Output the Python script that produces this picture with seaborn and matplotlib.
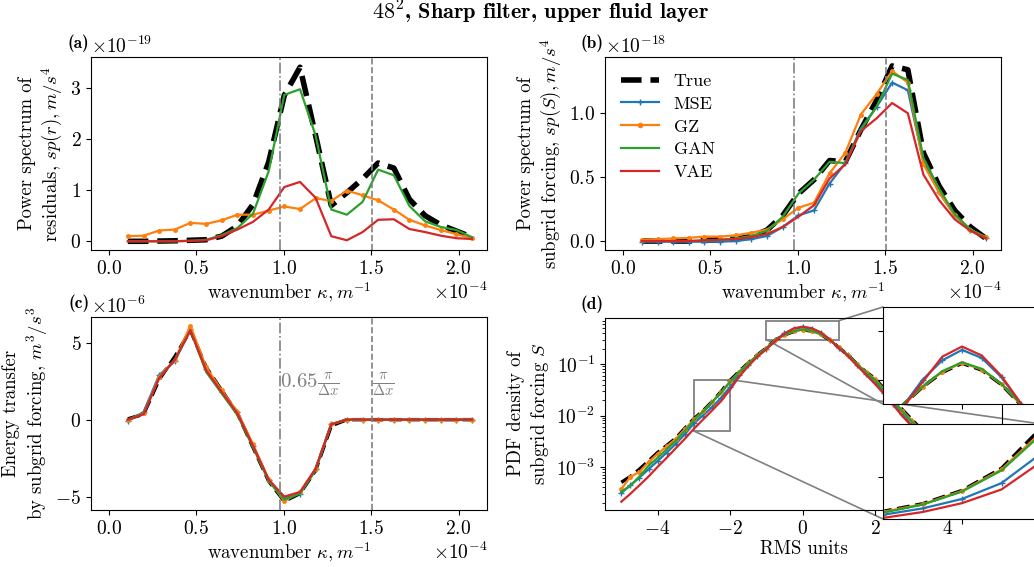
import matplotlib
matplotlib.use("Agg")
import matplotlib.pyplot as plt
import seaborn as sns
import numpy as np
from matplotlib.patches import Rectangle, ConnectionPatch
from matplotlib.lines import Line2D

plt.rcParams['font.family'] = ['cmr10']
plt.rcParams['mathtext.fontset'] = 'cm'
plt.rcParams['axes.formatter.use_mathtext'] = True
plt.rcParams['font.size'] = 13.5
plt.rcParams['xtick.labelsize'] = 14
plt.rcParams['ytick.labelsize'] = 14
plt.rcParams['axes.labelsize'] = 13.5
plt.rcParams['axes.unicode_minus'] = True

# ---------------- data ----------------
# wavenumber (units 1e-4 1/m)
kappa = [0.108, 0.198, 0.287, 0.377, 0.466, 0.556, 0.645, 0.735, 0.824, 0.914, 1.003, 1.093,
         1.182, 1.272, 1.361, 1.451, 1.540, 1.630, 1.719, 1.809, 1.898, 1.988, 2.077]
k_065 = 0.979   # 0.65 pi/dx
k_pi = 1.506    # pi/dx

# (a) power spectrum of residuals (units 1e-19)
a_true = [0.0, 0.0, 0.005, 0.01, 0.02, 0.03, 0.1, 0.3, 0.72, 1.55, 2.85, 3.4, 2.07, 0.7, 0.95, 1.22,
          1.53, 1.43, 0.82, 0.5, 0.32, 0.2, 0.08]
a_gz = [0.1, 0.11, 0.21, 0.23, 0.36, 0.34, 0.41, 0.52, 0.52, 0.6, 0.68, 0.63, 0.84, 0.79, 0.99, 0.9,
        0.8, 0.62, 0.42, 0.31, 0.22, 0.14, 0.06]
a_gan = [0.0, 0.0, 0.0, 0.0, 0.01, 0.03, 0.12, 0.26, 0.54, 1.37, 2.86, 2.97, 2.07, 0.62, 0.52, 0.77,
         1.40, 1.29, 0.69, 0.39, 0.28, 0.22, 0.08]
a_vae = [0.0, 0.0, 0.0, 0.0, 0.01, 0.02, 0.1, 0.23, 0.38, 0.62, 1.06, 1.16, 0.85, 0.1, 0.02, 0.18,
         0.42, 0.43, 0.24, 0.18, 0.11, 0.06, 0.045]

# (b) power spectrum of subgrid forcing (units 1e-18)
b_true = [0.0, 0.0, 0.0, 0.0, 0.005, 0.01, 0.015, 0.035, 0.086, 0.2, 0.37, 0.48, 0.63, 0.62, 0.87,
          1.10, 1.37, 1.34, 0.69, 0.43, 0.24, 0.11, 0.02]
b_mse = [-0.005, -0.005, -0.005, -0.005, -0.005, -0.005, 0.0, 0.015, 0.04, 0.11, 0.2, 0.24, 0.45,
         0.61, 0.88, 1.05, 1.24, 1.18, 0.62, 0.38, 0.2, 0.09, 0.02]
b_gz = [0.01, 0.015, 0.02, 0.025, 0.035, 0.035, 0.045, 0.065, 0.09, 0.17, 0.26, 0.30, 0.53, 0.69,
        0.99, 1.15, 1.33, 1.24, 0.6, 0.38, 0.2, 0.09, 0.03]
b_gan = [0.0, 0.0, 0.0, 0.0, 0.005, 0.01, 0.02, 0.04, 0.08, 0.19, 0.37, 0.48, 0.62, 0.61, 0.87,
         1.05, 1.31, 1.26, 0.65, 0.41, 0.21, 0.09, 0.025]
b_vae = [0.0, 0.0, 0.0, 0.0, 0.005, 0.01, 0.015, 0.03, 0.055, 0.11, 0.19, 0.28, 0.49, 0.60, 0.86,
         0.96, 1.08, 1.0, 0.52, 0.32, 0.17, 0.08, 0.02]

# (c) energy transfer (units 1e-6)
c_true = [0.05, 0.35, 2.6, 4.1, 5.8, 3.4, 1.9, 0.4, -1.8, -4.0, -5.3, -4.8, -3.3, -0.4, 0.0,
          0.0, 0.0, 0.0, 0.0, 0.0, 0.0, 0.0, 0.0]
c_mse = [-0.1, 0.5, 2.9, 3.8, 5.9, 3.3, 1.8, 0.5, -1.7, -3.9, -5.1, -4.8, -3.2, -0.3, 0.0,
         0.0, 0.0, 0.0, 0.0, 0.0, 0.0, 0.0, 0.0]
c_gz = [0.0, 0.4, 2.8, 3.9, 6.1, 3.4, 1.9, 0.5, -1.6, -3.9, -5.3, -4.7, -3.2, -0.3, 0.0,
        0.0, 0.0, 0.0, 0.0, 0.0, 0.0, 0.0, 0.0]
c_gan = [0.0, 0.4, 2.7, 3.9, 5.8, 3.1, 1.7, 0.3, -1.8, -4.0, -5.2, -4.8, -3.3, -0.3, 0.0,
         0.0, 0.0, 0.0, 0.0, 0.0, 0.0, 0.0, 0.0]
c_vae = [0.0, 0.35, 2.7, 3.9, 5.8, 3.2, 1.8, 0.4, -1.7, -3.9, -5.0, -4.7, -3.2, -0.3, 0.0,
         0.0, 0.0, 0.0, 0.0, 0.0, 0.0, 0.0, 0.0]

# (d) PDF of subgrid forcing, RMS units
rms = [-5.0, -4.75, -4.5, -4.25, -4.0, -3.75, -3.5, -3.25, -3.0, -2.75, -2.5, -2.25, -2.0, -1.75,
       -1.5, -1.25, -1.0, -0.75, -0.5, -0.25, 0.0, 0.25, 0.5, 0.75, 1.0, 1.25, 1.5, 1.75, 2.0,
       2.25, 2.5, 2.75, 3.0, 3.25, 3.5, 3.75, 4.0, 4.25, 4.5, 4.75, 5.0]
d_true = [5.0e-4, 6.5e-4, 9.0e-4, 1.3e-3, 1.9e-3, 2.6e-3, 3.6e-3, 5.6e-3, 8.6e-3, 1.22e-2, 1.85e-2,
          2.9e-2, 4.8e-2, 7.2e-2, 0.105, 0.15, 0.205, 0.295, 0.37, 0.43, 0.468, 0.44, 0.38, 0.295,
          0.21, 0.15, 0.10, 0.07, 0.052, 0.033, 0.021, 0.013, 8.5e-3, 5.6e-3, 3.7e-3, 2.5e-3,
          1.7e-3, 1.2e-3, 8.5e-4, 6.0e-4, 4.2e-4]
d_mse = [3.1e-4, 4.4e-4, 6.2e-4, 9.0e-4, 1.3e-3, 1.9e-3, 2.8e-3, 4.3e-3, 7.0e-3, 1.0e-2, 1.45e-2,
         2.2e-2, 3.6e-2, 6.2e-2, 0.096, 0.144, 0.198, 0.29, 0.40, 0.48, 0.523, 0.49, 0.41, 0.30,
         0.205, 0.148, 0.097, 0.065, 0.045, 0.028, 0.017, 0.0105, 6.8e-3, 4.5e-3, 3.0e-3,
         2.0e-3, 1.4e-3, 9.5e-4, 6.6e-4, 4.6e-4, 3.2e-4]
d_gz = [3.7e-4, 6.4e-4, 8.0e-4, 1.25e-3, 1.8e-3, 2.5e-3, 3.5e-3, 5.4e-3, 8.4e-3, 1.2e-2, 1.83e-2,
        2.85e-2, 4.6e-2, 7.1e-2, 0.104, 0.149, 0.205, 0.296, 0.37, 0.432, 0.470, 0.442, 0.381,
        0.296, 0.211, 0.15, 0.10, 0.07, 0.051, 0.032, 0.020, 0.0125, 8.2e-3, 5.4e-3, 3.6e-3,
        2.4e-3, 1.6e-3, 1.15e-3, 8.0e-4, 5.6e-4, 3.9e-4]
d_gan = [3.3e-4, 4.3e-4, 6.5e-4, 1.05e-3, 1.5e-3, 2.2e-3, 3.2e-3, 5.0e-3, 8.0e-3, 1.18e-2, 1.8e-2,
         2.8e-2, 4.5e-2, 7.0e-2, 0.103, 0.148, 0.205, 0.297, 0.372, 0.435, 0.472, 0.445, 0.383,
         0.298, 0.212, 0.15, 0.10, 0.069, 0.049, 0.031, 0.0195, 0.012, 7.8e-3, 5.2e-3, 3.4e-3,
         2.3e-3, 1.6e-3, 1.1e-3, 7.5e-4, 5.2e-4, 3.6e-4]
d_vae = [2.1e-4, 3.0e-4, 4.4e-4, 6.5e-4, 1.0e-3, 1.5e-3, 2.3e-3, 3.5e-3, 5.5e-3, 8.3e-3, 1.25e-2,
         1.9e-2, 3.2e-2, 5.7e-2, 0.091, 0.139, 0.195, 0.285, 0.39, 0.495, 0.537, 0.50, 0.415,
         0.30, 0.205, 0.145, 0.094, 0.062, 0.041, 0.026, 0.016, 9.8e-3, 6.3e-3, 4.1e-3, 2.7e-3,
         1.8e-3, 1.2e-3, 8.2e-4, 5.6e-4, 3.8e-4, 2.6e-4]

labels = ["True", "MSE", "GZ", "GAN", "VAE"]
colors = ["black", "#1f77b4", "#ff7f0e", "#2ca02c", "#d62728"]

# ---------------- figure ----------------
W, H = 1034, 567
fig = plt.figure(figsize=(W / 100, H / 100), dpi=100)


def px_axes(left, top, right, bottom):
    return fig.add_axes([left / W, 1 - bottom / H, (right - left) / W, (bottom - top) / H])


ax_a = px_axes(91, 57, 487, 250)
ax_b = px_axes(605, 57, 1001, 250)
ax_c = px_axes(91, 317, 487, 510)
ax_d = px_axes(605, 318, 1002, 510)


def line(ax, x, y, name, lw_true=4.0, scale=1.0):
    i = labels.index(name)
    c = colors[i]
    xs = np.asarray(x, dtype=float) * (1e-4 if scale != 1.0 else 1.0)
    ys = np.asarray(y, dtype=float) * scale
    kw = dict(color=c, ax=ax, legend=False, sort=False)
    if name == "True":
        sns.lineplot(x=xs, y=ys, linewidth=lw_true, linestyle="--", **kw)
    elif name == "MSE":
        sns.lineplot(x=xs, y=ys, linewidth=1.6, marker="+", markersize=5,
                     markeredgecolor=c, markeredgewidth=1.0, **kw)
    elif name == "GZ":
        sns.lineplot(x=xs, y=ys, linewidth=1.6, marker=".", markersize=6,
                     markeredgecolor=c, markeredgewidth=0.5, **kw)
    else:
        sns.lineplot(x=xs, y=ys, linewidth=1.6, **kw)


def spectral_axes(ax, ylab):
    ax.axvline(k_065 * 1e-4, color="gray", lw=1.2, ls="-.")
    ax.axvline(k_pi * 1e-4, color="gray", lw=1.2, ls="--")
    ax.set_xlim(-0.103e-4, 2.163e-4)
    ax.set_xticks([0.0, 0.5e-4, 1.0e-4, 1.5e-4, 2.0e-4])
    ax.ticklabel_format(axis="both", style="sci", scilimits=(0, 0), useMathText=True)
    ax.set_xlabel(r"wavenumber $\kappa, m^{-1}$", labelpad=2)
    ax.set_ylabel(ylab)


# (a)
line(ax_a, kappa, a_true, "True", scale=1e-19)
line(ax_a, kappa, a_gz, "GZ", scale=1e-19)
line(ax_a, kappa, a_gan, "GAN", scale=1e-19)
line(ax_a, kappa, a_vae, "VAE", scale=1e-19)
spectral_axes(ax_a, "Power spectrum of\n" + r"residuals, $sp(r), m/s^4$")
ax_a.set_yticks([0, 1e-19, 2e-19, 3e-19])
ax_a.set_ylim(-0.17e-19, 3.6e-19)

# (b)
for name, vals in zip(labels, [b_true, b_mse, b_gz, b_gan, b_vae]):
    line(ax_b, kappa, vals, name, scale=1e-18)
spectral_axes(ax_b, "Power spectrum of\n" + r"subgrid forcing, $sp(S), m/s^4$")
ax_b.set_yticks([0, 0.5e-18, 1.0e-18])
ax_b.set_ylim(-0.07e-18, 1.44e-18)
handles = [
    Line2D([], [], color="black", lw=4.0, ls="--"),
    Line2D([], [], color=colors[1], lw=1.6, marker="+", ms=5, mew=1.0),
    Line2D([], [], color=colors[2], lw=1.6, marker=".", ms=6),
    Line2D([], [], color=colors[3], lw=1.6),
    Line2D([], [], color=colors[4], lw=1.6),
]
ax_b.legend(handles, labels, loc="upper left", frameon=False, fontsize=13,
            handlelength=2.1, labelspacing=0.4)

# (c)
for name, vals in zip(labels, [c_true, c_mse, c_gz, c_gan, c_vae]):
    line(ax_c, kappa, vals, name, lw_true=2.5, scale=1e-6)
spectral_axes(ax_c, "Energy transfer\n" + r"by subgrid forcing, $m^3/s^3$")
ax_c.set_yticks([-5e-6, 0, 5e-6])
ax_c.set_ylim(-5.87e-6, 6.67e-6)
ax_c.text(k_065 * 1e-4, 2.3e-6, r"$0.65\frac{\pi}{\Delta x}$", color="gray",
          fontsize=15, ha="left", va="center")
ax_c.text(k_pi * 1e-4, 2.3e-6, r"$\frac{\pi}{\Delta x}$", color="gray",
          fontsize=15, ha="left", va="center")

# (d)
d_series = [d_true, d_mse, d_gz, d_gan, d_vae]


def pdf_lines(ax, lw_true):
    for name, vals in zip(labels, d_series):
        line(ax, rms, vals, name, lw_true=lw_true)


pdf_lines(ax_d, 2.5)
ax_d.set_yscale("log")
ax_d.set_xlim(-5.45, 5.5)
ax_d.set_ylim(1.45e-4, 0.79)
ax_d.set_xticks([-4, -2, 0, 2, 4])
ax_d.set_xlabel("RMS units", labelpad=2)
ax_d.set_ylabel("PDF density of\n" + r"subgrid forcing $S$")

# zoom boxes
box1 = (-1.0, 1.0, 0.3, 0.7)
box2 = (-3.0, -2.0, 0.005, 0.05)
for (x0, x1, y0, y1) in [box1, box2]:
    ax_d.add_patch(Rectangle((x0, y0), x1 - x0, y1 - y0, fill=False, ec="gray", lw=1.3))

ins1 = px_axes(883, 307, 1041, 404)
ins2 = px_axes(883, 424, 1041, 519)
for ins, (x0, x1, y0, y1), xt, yt in [(ins1, box1, [0.0], [0.4, 0.6]),
                                        (ins2, box2, [-2.5], [0.025])]:
    pdf_lines(ins, 2.5)
    ins.set_xlim(x0, x1)
    ins.set_ylim(y0, y1)
    ins.set_xticks(xt)
    ins.set_yticks(yt)
    ins.set_xticklabels([])
    ins.set_yticklabels([])
    ins.set_xlabel("")
    ins.set_ylabel("")

# connectors
for xyA, ins, xyB in [((1.0, 0.7), ins1, (0, 1)), ((-1.0, 0.3), ins1, (0, 0)),
                      ((-2.0, 0.05), ins2, (1, 1)), ((-3.0, 0.005), ins2, (0, 0))]:
    con = ConnectionPatch(xyA=xyA, coordsA=ax_d.transData, xyB=xyB, coordsB=ins.transAxes,
                          color="gray", lw=1.2)
    ax_d.add_artist(con)

# panel labels
for ax, lab in [(ax_a, "(a)"), (ax_b, "(b)"), (ax_c, "(c)"), (ax_d, "(d)")]:
    ax.text(-0.004, 1.07, lab, transform=ax.transAxes, ha="right", va="center",
            fontfamily="cmb10", fontsize=12.5)

fig.text(541 / W, 1 - 12 / H, r"$48^2$, Sharp filter, upper fluid layer", ha="center",
         va="center", fontfamily="cmb10", fontsize=16)

fig.savefig("out.png", dpi=100)
